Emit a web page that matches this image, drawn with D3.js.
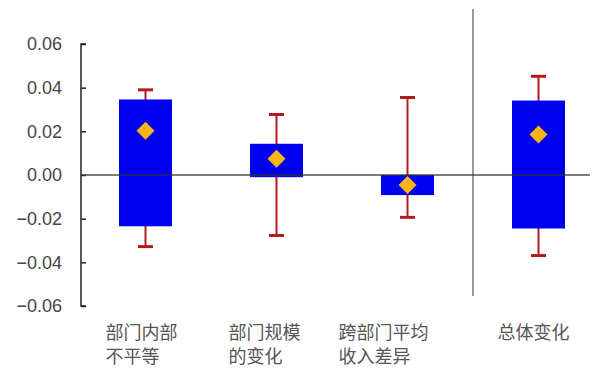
<!DOCTYPE html>
<html><head><meta charset="utf-8">
<script src="https://cdn.jsdelivr.net/npm/d3@7"></script>
<style>body{margin:0;background:#fff}</style>
</head><body>
<svg id="c" width="595" height="368"></svg>
<script>
const categories = ["部门内部\n不平等", "部门规模\n的变化", "跨部门平均\n收入差异", "总体变化"];
const boxTop    = [0.0346, 0.0143, 0.0000, 0.0341];
const boxBottom = [-0.0235, -0.0010, -0.0092, -0.0245];
const whiskerHigh = [0.0390, 0.0277, 0.0355, 0.0452];
const whiskerLow  = [-0.0328, -0.0277, -0.0194, -0.0369];
const pointValue  = [0.0203, 0.0074, -0.0046, 0.0185];
const yTicks = [-0.06, -0.04, -0.02, 0.00, 0.02, 0.04, 0.06];

const svg = d3.select("#c");
const y = d3.scaleLinear().domain([-0.06, 0.06]).range([306, 44]);
const x = d3.scalePoint().domain(categories).range([80, 604]).padding(0.5);
const barW = 53, capW = 15;
const labelDx = [-40, -48, -69, -41];
const data = categories.map((c, i) => ({c, i, top: boxTop[i], bot: boxBottom[i], hi: whiskerHigh[i], lo: whiskerLow[i], v: pointValue[i]}));

// axis
const axis = d3.axisLeft(y).tickValues(yTicks).tickSize(-5).tickPadding(19)
  .tickFormat(d => d3.format(".2f")(d).replace("-", "\u2212"));
const ag = svg.append("g").attr("transform", "translate(81,0)").call(axis);
ag.select(".domain").attr("d", "M5,44H0V306H5").attr("stroke", "#222").attr("stroke-width", 1.5).attr("fill", "none");
ag.selectAll(".tick line").attr("stroke", "#222").attr("stroke-width", 1.5);
ag.selectAll(".tick text").attr("fill", "#444").style("font-family", "Liberation Sans, Arial, sans-serif").style("font-size", "18px");

// separator
const sepX = (x(categories[2]) + x(categories[3])) / 2;
svg.append("line").attr("x1", sepX).attr("x2", sepX).attr("y1", 9).attr("y2", 296)
  .attr("stroke", "#777").attr("stroke-width", 1.5);

// whiskers
const wg = svg.append("g").attr("stroke", "#b01c1c").attr("stroke-width", 2);
wg.selectAll(".w").data(data).join("line").attr("x1", d => x(d.c)).attr("x2", d => x(d.c))
  .attr("y1", d => y(d.hi)).attr("y2", d => y(d.lo));
wg.selectAll(".ch").data(data).join("line").attr("x1", d => x(d.c) - capW/2).attr("x2", d => x(d.c) + capW/2)
  .attr("y1", d => y(d.hi)).attr("y2", d => y(d.hi)).attr("stroke-width", 3);
wg.selectAll(".cl").data(data).join("line").attr("x1", d => x(d.c) - capW/2).attr("x2", d => x(d.c) + capW/2)
  .attr("y1", d => y(d.lo)).attr("y2", d => y(d.lo)).attr("stroke-width", 3);

// boxes
svg.selectAll(".box").data(data).join("rect")
  .attr("x", d => x(d.c) - barW/2).attr("width", barW)
  .attr("y", d => y(d.top)).attr("height", d => y(d.bot) - y(d.top))
  .attr("fill", "#0000f0");

// zero line
svg.append("line").attr("x1", 81).attr("x2", 590).attr("y1", y(0)).attr("y2", y(0))
  .attr("stroke", "#333").attr("stroke-width", 1.6).attr("opacity", 0.85);

// diamonds
svg.selectAll(".dm").data(data).join("path")
  .attr("transform", d => `translate(${x(d.c)},${y(d.v)})`)
  .attr("d", "M0,-9L9,0L0,9L-9,0Z").attr("fill", "#f7b516");

// category labels
const lg = svg.append("g").style("font-family", "Noto Sans CJK SC, sans-serif").style("font-size", "18px").attr("fill", "#555");
data.forEach((d, i) => {
  const t = lg.append("text").attr("x", x(d.c) + labelDx[i]).attr("y", 339);
  d.c.split("\n").forEach((line, k) => {
    t.append("tspan").attr("x", x(d.c) + labelDx[i]).attr("dy", k === 0 ? 0 : 24).text(line);
  });
});
</script>
</body></html>
